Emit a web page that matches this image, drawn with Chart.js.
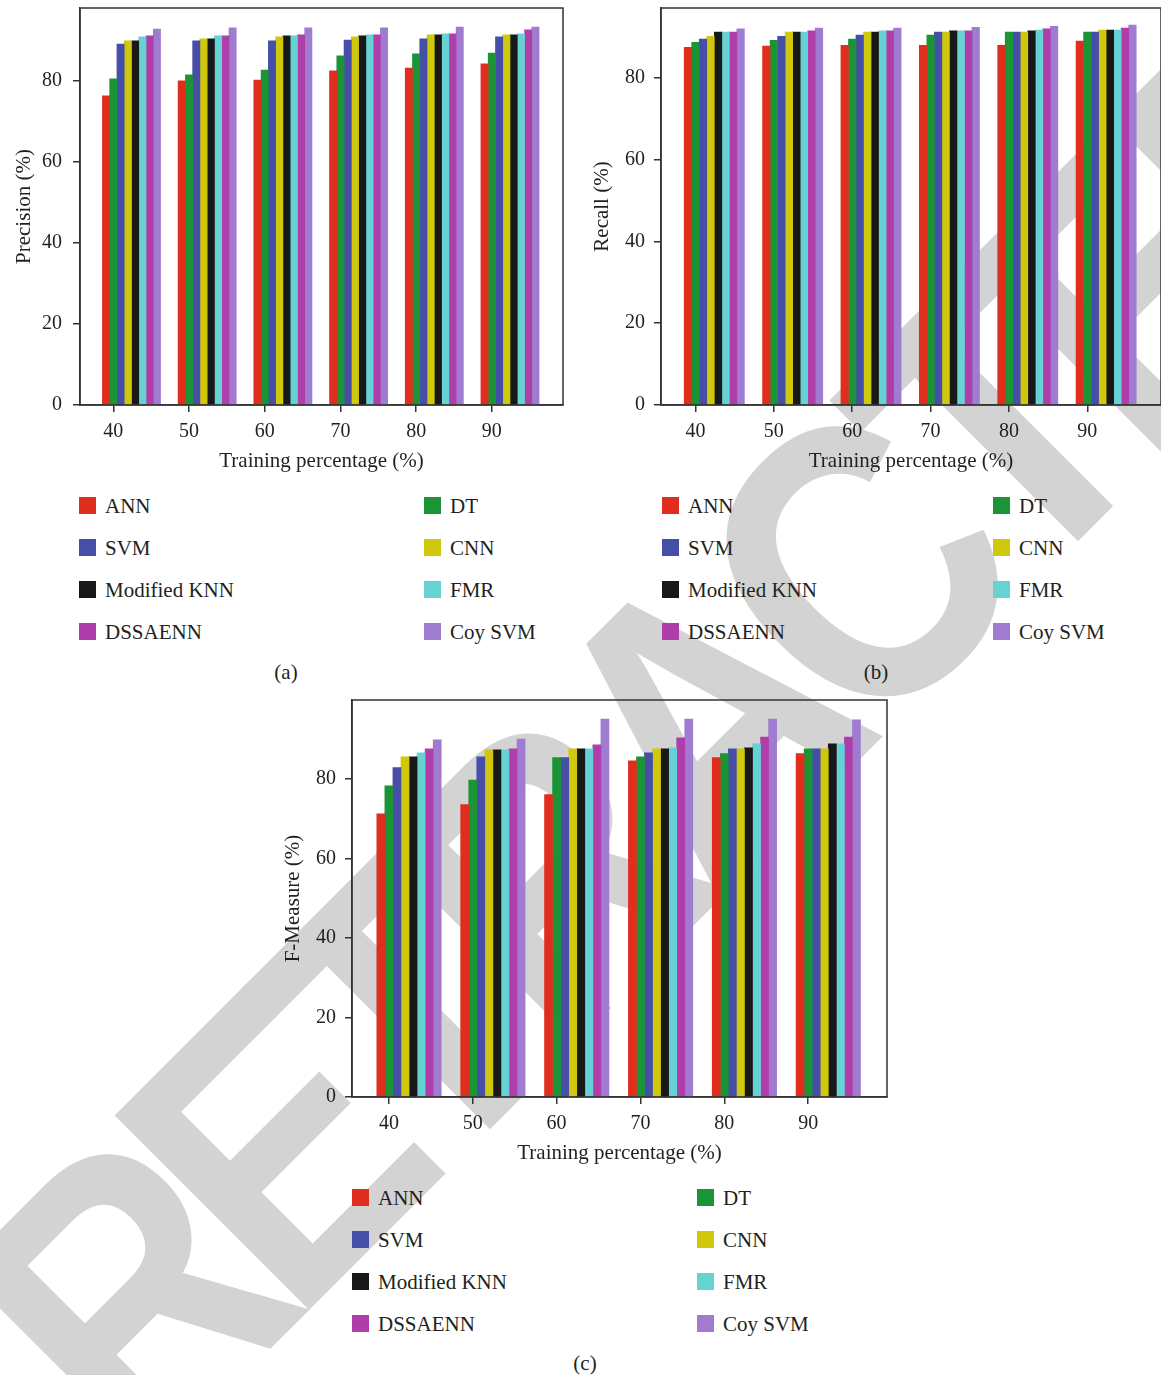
<!DOCTYPE html>
<html>
<head>
<meta charset="utf-8">
<script src="https://cdn.jsdelivr.net/npm/chart.js@4/dist/chart.umd.min.js"></script>
<style>
  html, body { margin: 0; padding: 0; background: #ffffff; }
  #page { position: relative; width: 1161px; height: 1375px; overflow: hidden; background: #ffffff; font-family: "Liberation Serif", "DejaVu Serif", serif; color: #231f20; }
  canvas { position: absolute; z-index: 2; }
  #wm { position: absolute; left: 693px; top: 731px; width: 0; height: 0; z-index: 0; }
  #wm span { position: absolute; left: 0; top: 0; white-space: nowrap; font-family: "Liberation Sans", Arial, sans-serif; font-weight: bold; font-size: 400px; letter-spacing: -36px; line-height: 1; color: #d3d3d3; transform: translate(-50%, -50%) rotate(-45deg) scaleX(0.86); }
  .lg { position: absolute; z-index: 3; display: flex; align-items: center; height: 17px; font-size: 21px; white-space: nowrap; }
  .lg i { display: inline-block; width: 17px; height: 17px; margin-right: 9px; }
  .lg span { position: relative; top: 1px; }
  .cap { position: absolute; z-index: 3; font-size: 21px; transform: translate(-50%, -50%); }
</style>
</head>
<body>
<div id="page">
  <div id="wm"><span>RETRACTED</span></div>
  <canvas id="ca" width="580" height="480" style="left:0px; top:0px;"></canvas>
  <canvas id="cb" width="581" height="480" style="left:580px; top:0px;"></canvas>
  <canvas id="cc" width="630" height="482" style="left:270px; top:690px;"></canvas>
  <div class="cap" style="left:286px; top:672px;">(a)</div>
  <div class="cap" style="left:876px; top:672px;">(b)</div>
  <div class="cap" style="left:585px; top:1363px;">(c)</div>
</div>
<script>
// ---------- data ----------
const categories = [40, 50, 60, 70, 80, 90];
const xTickLabels = [40, 50, 60, 70, 80, 90];
const yTickValues = [0, 20, 40, 60, 80];
const seriesNames = ["ANN", "DT", "SVM", "CNN", "Modified KNN", "FMR", "DSSAENN", "Coy SVM"];
const seriesColors = ["#e02e1e", "#1a9434", "#464ea8", "#d0c80c", "#181818", "#66d2d4", "#b03eaa", "#a07cd0"];

// (a) Precision (%)
const precisionANN     = [76.3, 80.0, 80.2, 82.5, 83.2, 84.2];
const precisionDT      = [80.5, 81.5, 82.7, 86.2, 86.7, 86.9];
const precisionSVM     = [89.1, 89.9, 89.9, 90.1, 90.4, 90.9];
const precisionCNN     = [89.9, 90.4, 90.9, 90.9, 91.4, 91.4];
const precisionKNN     = [89.9, 90.4, 91.1, 91.1, 91.4, 91.4];
const precisionFMR     = [90.9, 91.1, 91.1, 91.4, 91.6, 91.6];
const precisionDSSAENN = [91.1, 91.1, 91.4, 91.4, 91.6, 92.6];
const precisionCoySVM  = [92.8, 93.1, 93.1, 93.1, 93.3, 93.3];

// (b) Recall (%)
const recallANN     = [87.5, 87.8, 88.0, 88.0, 88.0, 89.0];
const recallDT      = [88.7, 89.2, 89.5, 90.5, 91.2, 91.2];
const recallSVM     = [89.5, 90.2, 90.5, 91.2, 91.2, 91.2];
const recallCNN     = [90.2, 91.2, 91.2, 91.2, 91.2, 91.7];
const recallKNN     = [91.2, 91.2, 91.2, 91.5, 91.5, 91.7];
const recallFMR     = [91.2, 91.2, 91.5, 91.5, 91.7, 91.7];
const recallDSSAENN = [91.2, 91.5, 91.5, 91.5, 92.0, 92.2];
const recallCoySVM  = [92.0, 92.2, 92.2, 92.4, 92.6, 92.9];

// (c) F-Measure (%)
const fmeasureANN     = [71.2, 73.5, 76.0, 84.5, 85.3, 86.3];
const fmeasureDT      = [78.2, 79.7, 85.3, 85.5, 86.3, 87.5];
const fmeasureSVM     = [82.8, 85.5, 85.3, 86.5, 87.5, 87.5];
const fmeasureCNN     = [85.5, 87.3, 87.5, 87.5, 87.5, 87.5];
const fmeasureKNN     = [85.5, 87.3, 87.5, 87.5, 87.8, 88.8];
const fmeasureFMR     = [86.5, 87.3, 87.5, 87.8, 88.8, 88.8];
const fmeasureDSSAENN = [87.5, 87.5, 88.5, 90.3, 90.5, 90.5];
const fmeasureCoySVM  = [89.8, 90.0, 95.0, 95.0, 95.0, 94.8];

const precisionSeries = [precisionANN, precisionDT, precisionSVM, precisionCNN, precisionKNN, precisionFMR, precisionDSSAENN, precisionCoySVM];
const recallSeries    = [recallANN, recallDT, recallSVM, recallCNN, recallKNN, recallFMR, recallDSSAENN, recallCoySVM];
const fmeasureSeries  = [fmeasureANN, fmeasureDT, fmeasureSVM, fmeasureCNN, fmeasureKNN, fmeasureFMR, fmeasureDSSAENN, fmeasureCoySVM];

// ---------- styling / layout ----------
const TEXT = "#231f20";
const AXIS = "#333333";
const FONT = "'Liberation Serif', 'DejaVu Serif', serif";
const barStep = 0.96;       // bar offset step within a group (axis units)
const xMin = 35.6, xMax = 99.4;

const framePlugin = {
  id: 'frame',
  afterDatasetsDraw(chart) {
    const a = chart.chartArea, ctx = chart.ctx;
    ctx.save();
    ctx.strokeStyle = AXIS;
    ctx.lineWidth = 1.5;
    ctx.strokeRect(a.left, a.top, a.right - a.left, a.bottom - a.top);
    ctx.restore();
  }
};

function makeChart(id, series, yTitle, yMax, layout) {
  const datasets = seriesNames.map((name, i) => ({
    label: name,
    backgroundColor: seriesColors[i],
    borderWidth: 0,
    grouped: false,
    barPercentage: 1,
    categoryPercentage: 1,
    data: categories.map((c, j) => ({ x: c + (i - 1) * barStep, y: series[i][j] }))
  }));
  return new Chart(document.getElementById(id), {
    type: 'bar',
    data: { datasets },
    options: {
      responsive: false,
      animation: false,
      devicePixelRatio: 1,
      layout: { padding: layout.padding },
      plugins: { legend: { display: false }, tooltip: { enabled: false } },
      scales: {
        x: {
          type: 'linear',
          min: xMin, max: xMax,
          offset: false,
          afterBuildTicks: s => { s.ticks = xTickLabels.map(v => ({ value: v })); },
          afterFit: s => { s.height = layout.xHeight; s.paddingLeft = 0; s.paddingRight = 0; },
          ticks: { color: TEXT, font: { family: FONT, size: 20 }, padding: 8, maxRotation: 0, autoSkip: false },
          grid: { offset: false, drawOnChartArea: false, drawTicks: true, tickLength: 7, color: AXIS, lineWidth: 1.5 },
          border: { display: true, color: AXIS, width: 1.5 },
          title: { display: true, text: 'Training percentage (%)', color: TEXT, font: { family: FONT, size: 21 }, padding: { top: 0, bottom: 6 } }
        },
        y: {
          min: 0, max: yMax,
          afterBuildTicks: s => { s.ticks = yTickValues.map(v => ({ value: v })); },
          afterFit: s => { s.width = layout.yWidth; s.paddingTop = 0; s.paddingBottom = 0; },
          ticks: { color: TEXT, font: { family: FONT, size: 20 }, padding: layout.yPad },
          grid: { drawOnChartArea: false, drawTicks: true, tickLength: 7, color: AXIS, lineWidth: 1.5 },
          border: { display: true, color: AXIS, width: 1.5 },
          title: { display: true, text: yTitle, color: TEXT, font: { family: FONT, size: 21 }, padding: { top: layout.yTitlePad, bottom: 0 } }
        }
      }
    },
    plugins: [framePlugin]
  });
}

makeChart('ca', precisionSeries, 'Precision (%)', 98.0,
  { padding: { top: 8, right: 17, left: 0, bottom: 0 }, xHeight: 75, yWidth: 80, yPad: 11, yTitlePad: 12 });
makeChart('cb', recallSeries, 'Recall (%)', 97.1,
  { padding: { top: 8, right: 0, left: 0, bottom: 0 }, xHeight: 75, yWidth: 81, yPad: 9, yTitlePad: 10 });
makeChart('cc', fmeasureSeries, 'F-Measure (%)', 99.8,
  { padding: { top: 10, right: 13, left: 0, bottom: 0 }, xHeight: 75, yWidth: 82, yPad: 9, yTitlePad: 11 });

// ---------- HTML legends ----------
function makeLegend(baseX, baseY, colGap, rowGap) {
  const page = document.getElementById('page');
  seriesNames.forEach((name, k) => {
    const row = Math.floor(k / 2), col = k % 2;
    const d = document.createElement('div');
    d.className = 'lg';
    d.style.left = (baseX + col * colGap) + 'px';
    d.style.top = (baseY + row * rowGap) + 'px';
    const sq = document.createElement('i');
    sq.style.background = seriesColors[k];
    const t = document.createElement('span');
    t.textContent = name;
    d.appendChild(sq); d.appendChild(t);
    page.appendChild(d);
  });
}
makeLegend(79, 497, 345, 42);
makeLegend(662, 497, 331, 42);
makeLegend(352, 1189, 345, 42);
</script>
</body>
</html>
